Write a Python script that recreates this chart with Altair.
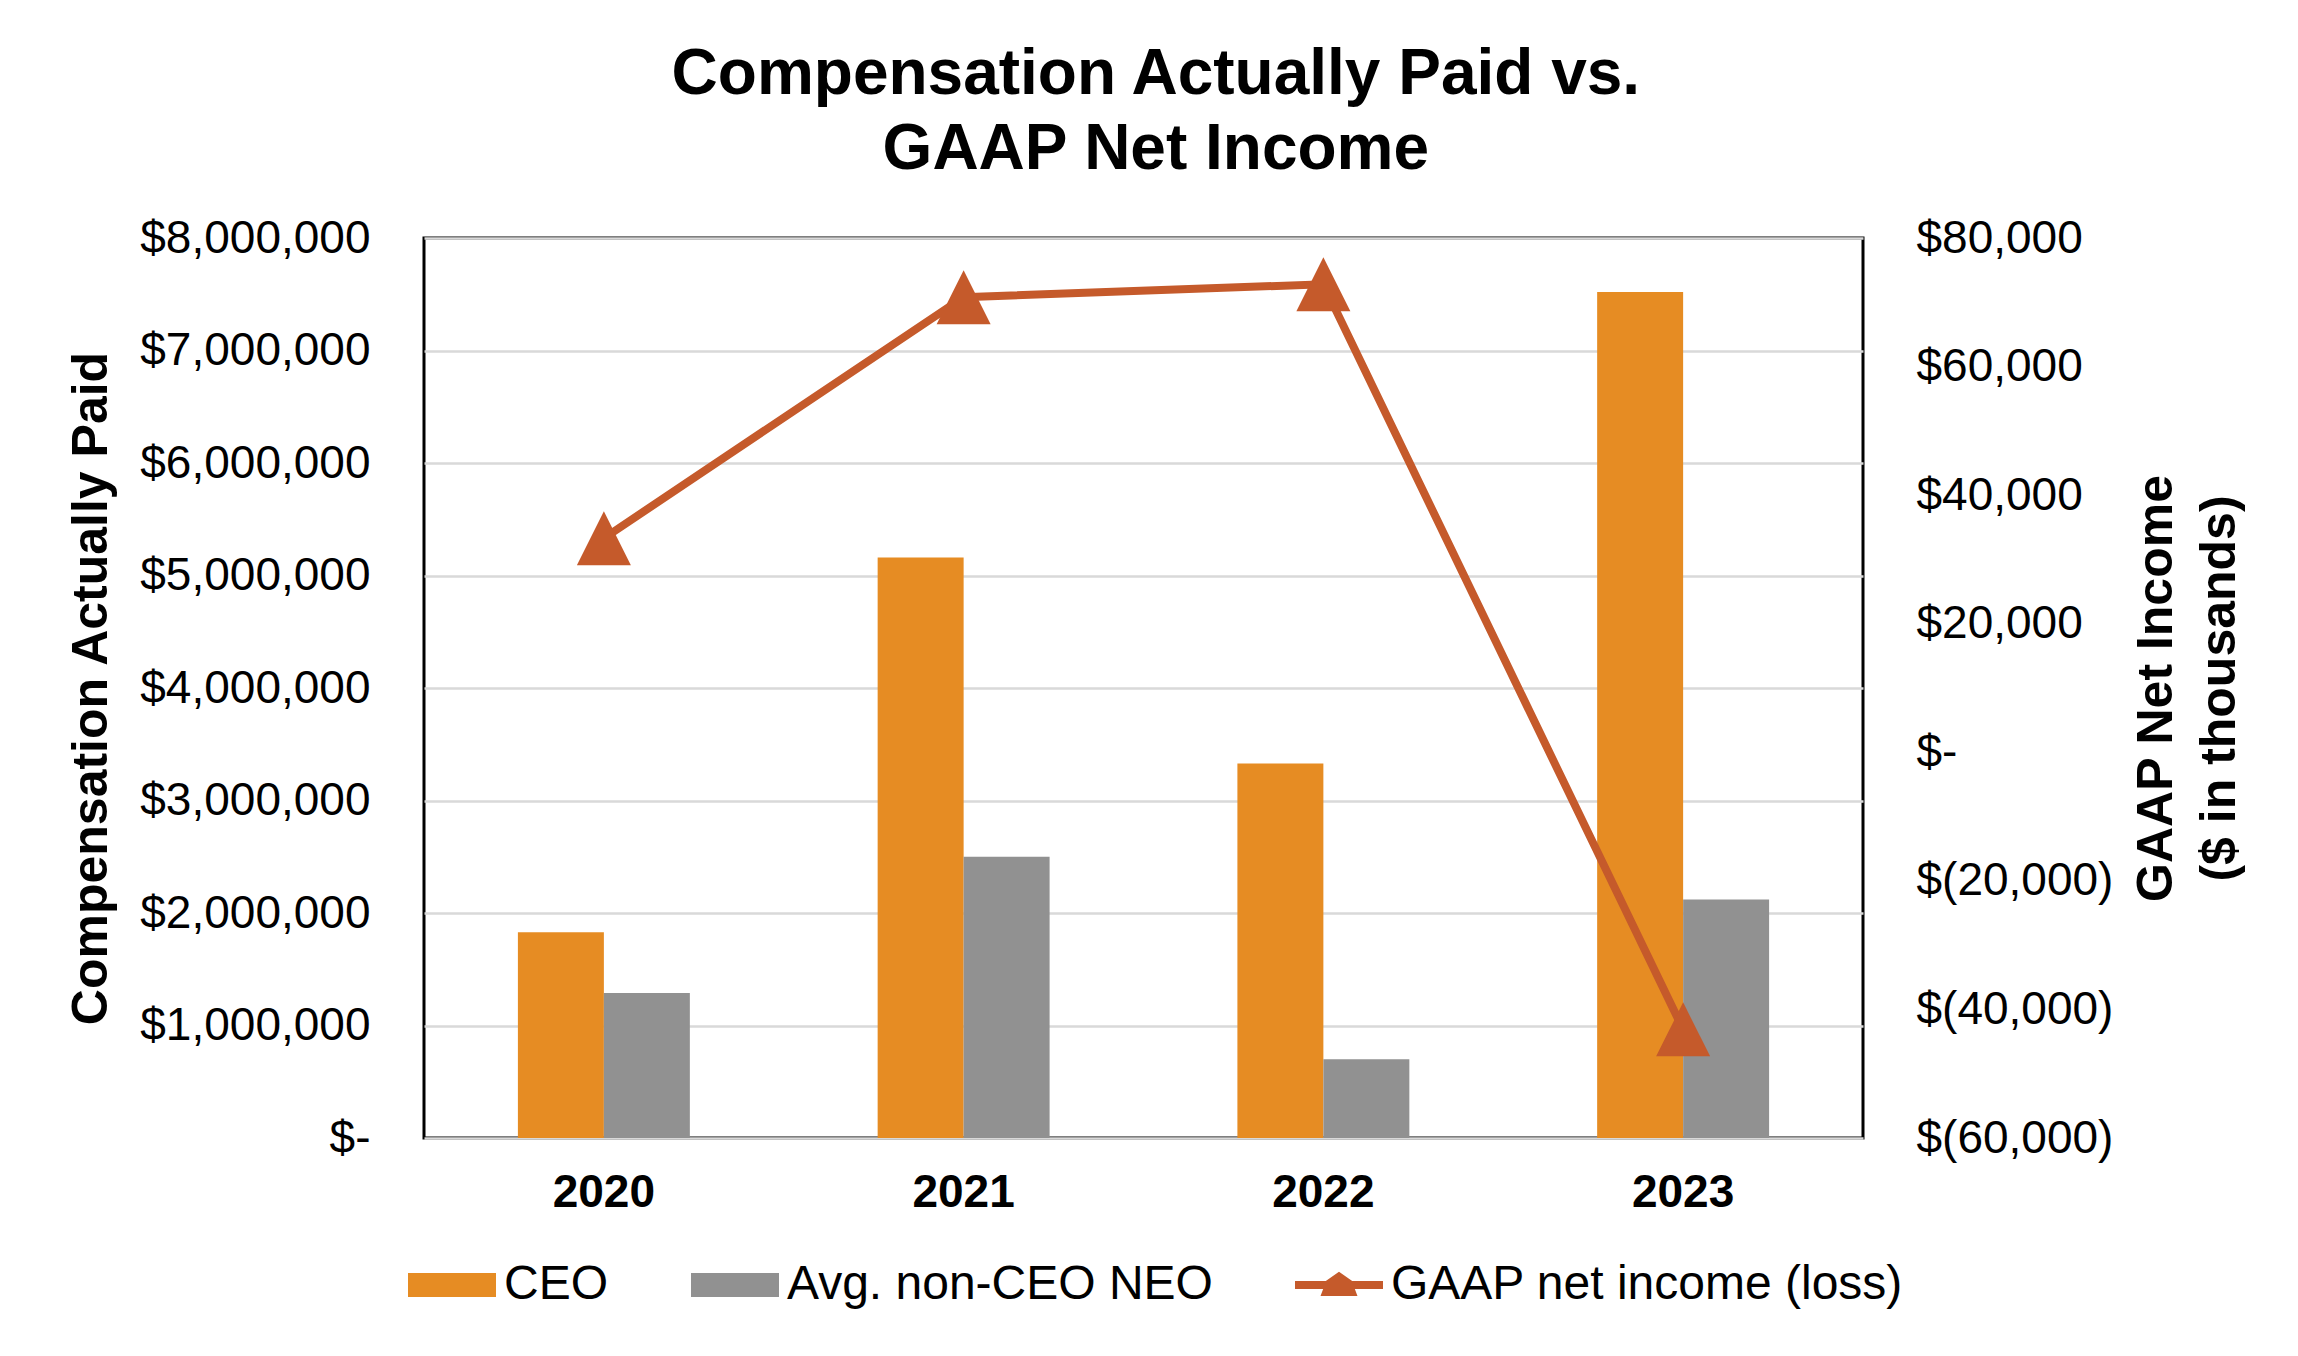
import altair as alt
import pandas as pd

years = ["2020", "2021", "2022", "2023"]
ceo_cap = [1830000, 5160000, 3330000, 7520000]
neo_cap = [1290000, 2500000, 700000, 2120000]
net_income = [33300, 70800, 72800, -43100]

series_names = ["CEO", "Avg. non-CEO NEO", "GAAP net income (loss)"]
series_colors = ["#E68C23", "#919191", "#C55A2B"]

left_ticks = [0, 1000000, 2000000, 3000000, 4000000, 5000000, 6000000, 7000000, 8000000]
right_ticks = [-60000, -40000, -20000, 0, 20000, 40000, 60000, 80000]

bars_df = pd.DataFrame({
    "year": years * 2,
    "series": [series_names[0]] * 4 + [series_names[1]] * 4,
    "value": ceo_cap + neo_cap,
})
line_df = pd.DataFrame({
    "year": years,
    "series": [series_names[2]] * 4,
    "value": net_income,
})

FONT = "Liberation Sans"
rect_path = "M-1,-0.27H1V0.27H-1Z"
line_tri_path = "M-1,-0.09H-0.3L0,-0.3L0.3,-0.09H1V0.09H0.36L0.42,0.25H-0.42L-0.36,0.09H-1Z"
tri_path = "M0,-1L1,1L-1,1Z"

color_scale = alt.Scale(domain=series_names, range=series_colors)
shape_scale = alt.Scale(domain=series_names, range=[rect_path, rect_path, line_tri_path])

legend_cfg = alt.Legend(
    title=None, orient="none", legendX=-16, legendY=1003, direction="horizontal",
    symbolSize=7744, symbolStrokeWidth=0, symbolOpacity=1, labelFont=FONT, labelFontSize=48,
    labelColor="black", labelOffset=8, columnPadding=82,
    labelLimit=800,
)

x_enc = alt.X(
    "year:N", sort=years, title=None,
    scale=alt.Scale(paddingInner=0.522, paddingOuter=0.261),
    axis=alt.Axis(labelAngle=0, labelFont=FONT, labelFontSize=46, labelFontWeight="bold",
                  labelColor="black", ticks=False, domain=False, labelPadding=32),
)

bars = alt.Chart(bars_df).mark_bar().encode(
    x=x_enc,
    xOffset=alt.XOffset("series:N", sort=series_names[:2], scale=alt.Scale(domain=series_names[:2], paddingInner=0, paddingOuter=0)),
    y=alt.Y(
        "value:Q", scale=alt.Scale(domain=[0, 8000000], nice=False),
        axis=alt.Axis(
            orient="left", values=left_ticks, title="Compensation Actually Paid",
            labelExpr="datum.value == 0 ? '$-\u00a0\u00a0' : '$' + format(datum.value, ',')",
            labelFont=FONT, labelFontSize=46, labelColor="black", labelPadding=54, labelLimit=500,
            ticks=False, domain=False, grid=True, gridColor="#D9D9D9", gridWidth=2.5,
            titleFont=FONT, titleFontSize=50, titleFontWeight="bold", titleColor="black",
            titlePadding=23, maxExtent=600,
        ),
    ),
    color=alt.Color("series:N", scale=color_scale, legend=legend_cfg),
)

line = alt.Chart(line_df).mark_line(color="#C55A2B", strokeWidth=8).encode(
    x=alt.X("year:N", sort=years),
    y=alt.Y(
        "value:Q", scale=alt.Scale(domain=[-60000, 80000], nice=False),
        axis=alt.Axis(
            orient="right", values=right_ticks,
            title=["GAAP Net Income", "($ in thousands)"],
            labelExpr="datum.value == 0 ? '$-' : (datum.value < 0 ? '$(' + format(-datum.value, ',') + ')' : '$' + format(datum.value, ','))",
            labelFont=FONT, labelFontSize=46, labelColor="black", labelPadding=53, labelLimit=500,
            ticks=False, domain=False, grid=False,
            titleFont=FONT, titleFontSize=50, titleFontWeight="bold", titleColor="black",
            titleAngle=270, titlePadding=6, titleLineHeight=63, maxExtent=600,
        ),
    ),
)

legend_points = alt.Chart(line_df).mark_point(filled=True, size=0, strokeWidth=0).encode(
    x=alt.X("year:N", sort=years),
    y=alt.Y("value:Q", scale=alt.Scale(domain=[-60000, 80000], nice=False)),
    color=alt.Color("series:N", scale=color_scale, legend=legend_cfg),
    shape=alt.Shape("series:N", scale=shape_scale, legend=legend_cfg),
)

triangles = alt.Chart(line_df).mark_point(filled=True, size=2916, opacity=1, shape=tri_path, color="#C55A2B", strokeWidth=0).encode(
    x=alt.X("year:N", sort=years),
    y=alt.Y("value:Q", scale=alt.Scale(domain=[-60000, 80000], nice=False)),
)

right_layer = alt.layer(line, triangles, legend_points)

chart = alt.layer(bars, right_layer).resolve_scale(y="independent").properties(
    width=1439, height=900,
    title=alt.TitleParams(
        ["Compensation Actually Paid vs.", "GAAP Net Income"],
        font=FONT, fontSize=64, fontWeight="bold", color="black",
        anchor="middle", frame="bounds", lineHeight=75, offset=33,
    ),
    padding={"left": 58, "top": 35, "right": 10, "bottom": 10},
    background="white",
).configure_view(stroke="black", strokeWidth=3)

chart.save("out.html", embed_options={"renderer": "svg", "actions": False})
